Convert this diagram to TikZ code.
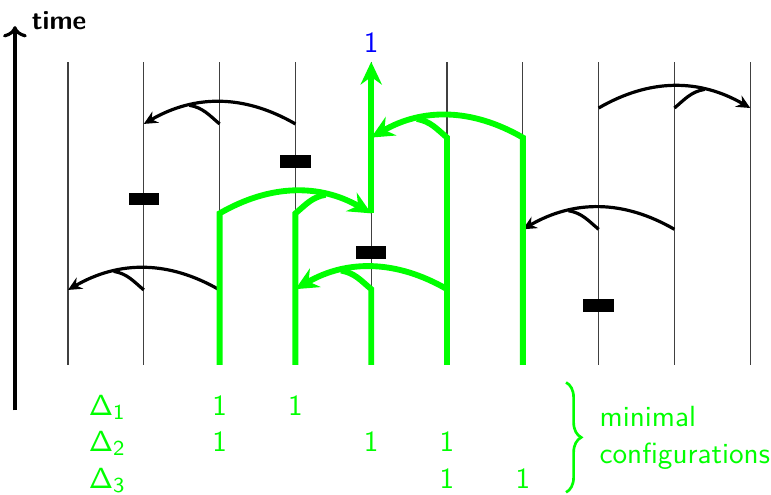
\documentclass[tikz,border=0pt]{standalone}
\usepackage{tikz}
\usetikzlibrary{positioning, arrows.meta, decorations.pathreplacing}
\tikzset{
  every node/.style={font=\sffamily\fontsize{10.95}{13.6}\selectfont},
  procline/.style={black!75, thin},
  msg/.style={-{Stealth[length=1.8mm, width=1.7mm, inset=0.6mm]}, line width=1.2pt},
  msgbranch/.style={line width=1.2pt},
  active/.style={green, line width=2.2pt},
  activemsg/.style={active, -{Stealth[length=3mm, width=2.8mm, inset=1mm]}},
  fault/.style={rectangle, fill=black, inner sep=0pt, minimum width=0.4cm, minimum height=0.17cm},
  conf/.style={green}
}

\begin{document}
\begin{tikzpicture}
\useasboundingbox (-0.897,-1.715) rectangle (9.274,4.815);

% Processes (one vertical line each)
\foreach \i in {0,...,9} {
  \coordinate (b\i) at (\i,0);
  \coordinate (t\i) at (\i,4);
  \draw[procline] (b\i) -- (t\i);
}

% Time axis
\coordinate (tlow) at (-0.7,-0.6);
\coordinate (thigh) at (-0.7,4.47);
\draw[very thick, ->] (tlow) -- (thigh);
\node[font=\sffamily\bfseries, anchor=base west] (tlabel) at (-0.6,4.43) {time};

% Faulty steps
\node[fault] (f1) at (1,2.19) {};
\node[fault] (f3) at (3,2.68) {};
\node[fault] (f4) at (4,1.48) {};
\node[fault] (f7) at (7,0.79) {};

% Black messages: source, middle, destination
\coordinate (a1s) at (3,3.18); \coordinate (a1m) at (2,3.18); \coordinate (a1d) at (1,3.18);
\draw[msg] (a1s) to[bend right=30] coordinate[pos=0.7] (a1j) (a1d);
\draw[msgbranch] (a1m) to[out=140, in=-10] (a1j);

\coordinate (a2s) at (7,3.39); \coordinate (a2m) at (8,3.39); \coordinate (a2d) at (9,3.39);
\draw[msg] (a2s) to[bend left=30] coordinate[pos=0.7] (a2j) (a2d);
\draw[msgbranch] (a2m) to[out=40, in=190] (a2j);

\coordinate (a3s) at (8,1.79); \coordinate (a3m) at (7,1.79); \coordinate (a3d) at (6,1.79);
\draw[msg] (a3s) to[bend right=30] coordinate[pos=0.7] (a3j) (a3d);
\draw[msgbranch] (a3m) to[out=140, in=-10] (a3j);

\coordinate (a4s) at (2,0.99); \coordinate (a4m) at (1,0.99); \coordinate (a4d) at (0,0.99);
\draw[msg] (a4s) to[bend right=30] coordinate[pos=0.7] (a4j) (a4d);
\draw[msgbranch] (a4m) to[out=140, in=-10] (a4j);

% Green messages (the path that yields the output)
\coordinate (g1s) at (2,2); \coordinate (g1m) at (3,2); \coordinate (g1d) at (4,2);
\coordinate (g2s) at (6,3); \coordinate (g2m) at (5,3); \coordinate (g2d) at (4,3);
\coordinate (g3s) at (5,1); \coordinate (g3m) at (4,1); \coordinate (g3d) at (3,1);

\draw[activemsg] (b2) -- (g1s) to[bend left=30] coordinate[pos=0.7] (g1j) (g1d);
\draw[active] (b3) -- (g1m) to[out=40, in=190] (g1j);

\draw[activemsg] (b6) -- (g2s) to[bend right=30] coordinate[pos=0.7] (g2j) (g2d);
\draw[active] (b5) -- (g2m) to[out=140, in=-10] (g2j);

\draw[activemsg] (g3s) to[bend right=30] coordinate[pos=0.7] (g3j) (g3d);
\draw[active] (b4) -- (g3m) to[out=140, in=-10] (g3j);

\draw[activemsg] (g1d) -- (t4);
\node[blue, above=0pt of t4] (out) {1};

% Minimal configurations
\node[conf, anchor=base] (d1) at (0.52,-0.66) {$\mathsf{\Delta_1}$};
\node[conf, anchor=base] (d2) at (0.52,-1.14) {$\mathsf{\Delta_2}$};
\node[conf, anchor=base] (d3) at (0.52,-1.63) {$\mathsf{\Delta_3}$};
\foreach \r/\c/\y in {1/2/-0.66, 1/3/-0.66, 2/2/-1.14, 2/4/-1.14, 2/5/-1.14, 3/5/-1.63, 3/6/-1.63}
  \node[conf, anchor=base] (c\r\c) at (\c,\y) {1};

\coordinate (btop) at (6.57,-0.23);
\coordinate (bbot) at (6.57,-1.68);
\draw[conf, line width=1pt, decorate, decoration={brace, amplitude=5.7pt}] (btop) -- (bbot);
\node[conf, anchor=west, align=left] (minconf) at (6.89,-0.96) {minimal\\configurations};

\end{tikzpicture}
\end{document}
